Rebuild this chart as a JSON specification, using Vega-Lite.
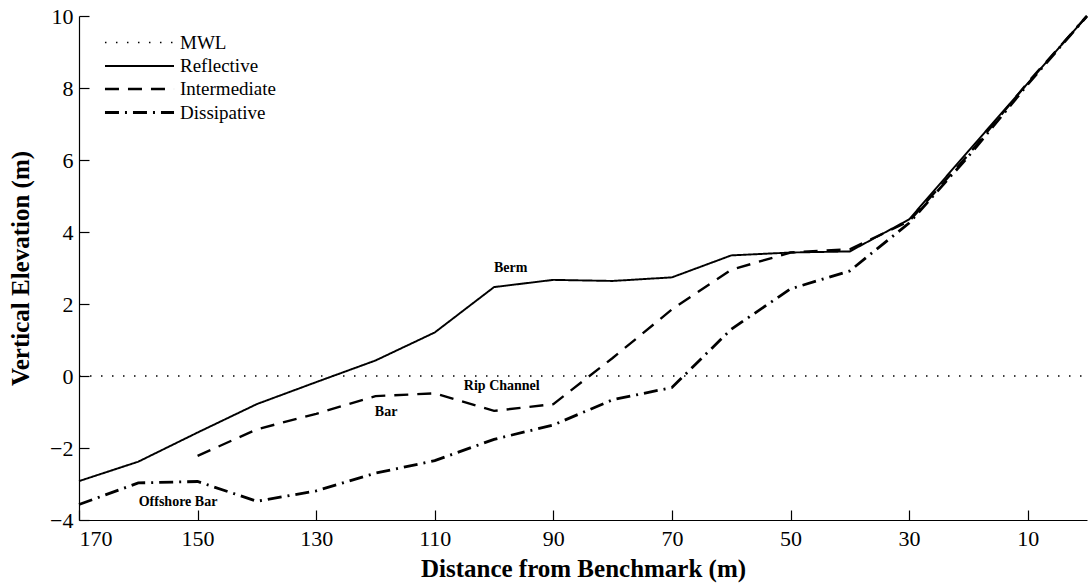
{
  "$schema": "https://vega.github.io/schema/vega-lite/v6.json",
  "width": 1008,
  "height": 504,
  "autosize": {"type": "none"},
  "padding": {"left": 79, "top": 16, "right": 2, "bottom": 64},
  "background": "white",
  "config": {
    "view": {"stroke": null},
    "font": "Liberation Serif",
    "axis": {
      "labelFont": "Liberation Serif",
      "labelFontSize": 22,
      "labelColor": "black",
      "titleFont": "Liberation Serif",
      "titleFontSize": 25,
      "titleFontWeight": "bold",
      "titleColor": "black",
      "domainColor": "black",
      "domainWidth": 1.2,
      "tickColor": "black",
      "tickWidth": 1.2,
      "tickSize": -10,
      "grid": false
    },
    "legend": {
      "labelFont": "Liberation Serif",
      "labelFontSize": 19,
      "labelColor": "black",
      "titleFontSize": 0
    }
  },
  "datasets": {
    "profiles": [
      {"series": "MWL", "distance": 170, "elevation": 0},
      {"series": "MWL", "distance": 0, "elevation": 0},
      {"series": "Reflective", "distance": 170, "elevation": -2.92},
      {"series": "Reflective", "distance": 160, "elevation": -2.38},
      {"series": "Reflective", "distance": 150, "elevation": -1.57},
      {"series": "Reflective", "distance": 140, "elevation": -0.78},
      {"series": "Reflective", "distance": 130, "elevation": -0.17},
      {"series": "Reflective", "distance": 120, "elevation": 0.43},
      {"series": "Reflective", "distance": 110, "elevation": 1.21},
      {"series": "Reflective", "distance": 100, "elevation": 2.47},
      {"series": "Reflective", "distance": 90, "elevation": 2.67},
      {"series": "Reflective", "distance": 80, "elevation": 2.64},
      {"series": "Reflective", "distance": 70, "elevation": 2.74},
      {"series": "Reflective", "distance": 60, "elevation": 3.35},
      {"series": "Reflective", "distance": 50, "elevation": 3.43},
      {"series": "Reflective", "distance": 40, "elevation": 3.46},
      {"series": "Reflective", "distance": 30, "elevation": 4.35},
      {"series": "Reflective", "distance": 20, "elevation": 6.25},
      {"series": "Reflective", "distance": 10, "elevation": 8.13},
      {"series": "Reflective", "distance": 0, "elevation": 10},
      {"series": "Intermediate", "distance": 150, "elevation": -2.22},
      {"series": "Intermediate", "distance": 140, "elevation": -1.48},
      {"series": "Intermediate", "distance": 130, "elevation": -1.05},
      {"series": "Intermediate", "distance": 120, "elevation": -0.56},
      {"series": "Intermediate", "distance": 110, "elevation": -0.48},
      {"series": "Intermediate", "distance": 100, "elevation": -0.97},
      {"series": "Intermediate", "distance": 90, "elevation": -0.78},
      {"series": "Intermediate", "distance": 80, "elevation": 0.5},
      {"series": "Intermediate", "distance": 70, "elevation": 1.85},
      {"series": "Intermediate", "distance": 60, "elevation": 2.95},
      {"series": "Intermediate", "distance": 50, "elevation": 3.43},
      {"series": "Intermediate", "distance": 40, "elevation": 3.52},
      {"series": "Intermediate", "distance": 30, "elevation": 4.3},
      {"series": "Intermediate", "distance": 20, "elevation": 6.15},
      {"series": "Intermediate", "distance": 10, "elevation": 8.15},
      {"series": "Intermediate", "distance": 0, "elevation": 10},
      {"series": "Dissipative", "distance": 170, "elevation": -3.57},
      {"series": "Dissipative", "distance": 160, "elevation": -2.97},
      {"series": "Dissipative", "distance": 150, "elevation": -2.93},
      {"series": "Dissipative", "distance": 140, "elevation": -3.48},
      {"series": "Dissipative", "distance": 130, "elevation": -3.19},
      {"series": "Dissipative", "distance": 120, "elevation": -2.7},
      {"series": "Dissipative", "distance": 110, "elevation": -2.35},
      {"series": "Dissipative", "distance": 100, "elevation": -1.76},
      {"series": "Dissipative", "distance": 90, "elevation": -1.36},
      {"series": "Dissipative", "distance": 80, "elevation": -0.66},
      {"series": "Dissipative", "distance": 70, "elevation": -0.32},
      {"series": "Dissipative", "distance": 60, "elevation": 1.3},
      {"series": "Dissipative", "distance": 50, "elevation": 2.42},
      {"series": "Dissipative", "distance": 40, "elevation": 2.92},
      {"series": "Dissipative", "distance": 30, "elevation": 4.25},
      {"series": "Dissipative", "distance": 20, "elevation": 6.1},
      {"series": "Dissipative", "distance": 10, "elevation": 8.1},
      {"series": "Dissipative", "distance": 0, "elevation": 10}
    ],
    "notes": [
      {"label": "Berm", "distance": 97.2, "elevation": 2.99},
      {"label": "Rip Channel", "distance": 98.7, "elevation": -0.29},
      {"label": "Bar", "distance": 118.2, "elevation": -1.01},
      {"label": "Offshore Bar", "distance": 153.3, "elevation": -3.51}
    ]
  },
  "layer": [
    {
      "data": {"name": "profiles"},
      "mark": {"type": "line", "color": "black", "strokeCap": "butt", "strokeJoin": "miter"},
      "encoding": {
        "x": {
          "field": "distance",
          "type": "quantitative",
          "scale": {"domain": [170, 0], "nice": false, "zero": false},
          "axis": {
            "values": [170, 150, 130, 110, 90, 70, 50, 30, 10],
            "title": "Distance from Benchmark (m)",
            "labelPadding": 18,
            "titleY": 56,
            "titleBaseline": "alphabetic"
          }
        },
        "y": {
          "field": "elevation",
          "type": "quantitative",
          "scale": {"domain": [-4, 10], "nice": false, "zero": false},
          "axis": {
            "values": [-4, -2, 0, 2, 4, 6, 8, 10],
            "title": "Vertical Elevation (m)",
            "labelPadding": 16,
            "titleX": -51,
            "titleBaseline": "alphabetic"
          }
        },
        "strokeDash": {
          "field": "series",
          "type": "nominal",
          "scale": {
            "domain": ["MWL", "Reflective", "Intermediate", "Dissipative"],
            "range": [[1.5, 9.5], [1, 0], [14, 9], [14, 6, 2, 6]]
          },
          "legend": {
            "orient": "none",
            "legendX": 50,
            "legendY": 17,
            "title": null,
            "symbolType": "M-4,0H4",
            "symbolSize": 298,
            "symbolStrokeWidth": 2.8,
            "symbolStrokeColor": "black",
            "labelOffset": 30,
            "rowPadding": 3,
            "padding": 0
          }
        },
        "strokeWidth": {
          "field": "series",
          "type": "nominal",
          "scale": {
            "domain": ["MWL", "Reflective", "Intermediate", "Dissipative"],
            "range": [1.5, 2.8, 2.8, 2.8]
          },
          "legend": null
        },
        "order": {"field": "distance", "type": "quantitative", "sort": "descending"}
      }
    },
    {
      "data": {"name": "notes"},
      "mark": {"type": "text", "font": "Liberation Serif", "fontWeight": "bold", "fontSize": 14, "color": "black", "align": "center", "baseline": "middle"},
      "encoding": {
        "x": {"field": "distance", "type": "quantitative"},
        "y": {"field": "elevation", "type": "quantitative"},
        "text": {"field": "label"}
      }
    }
  ]
}
